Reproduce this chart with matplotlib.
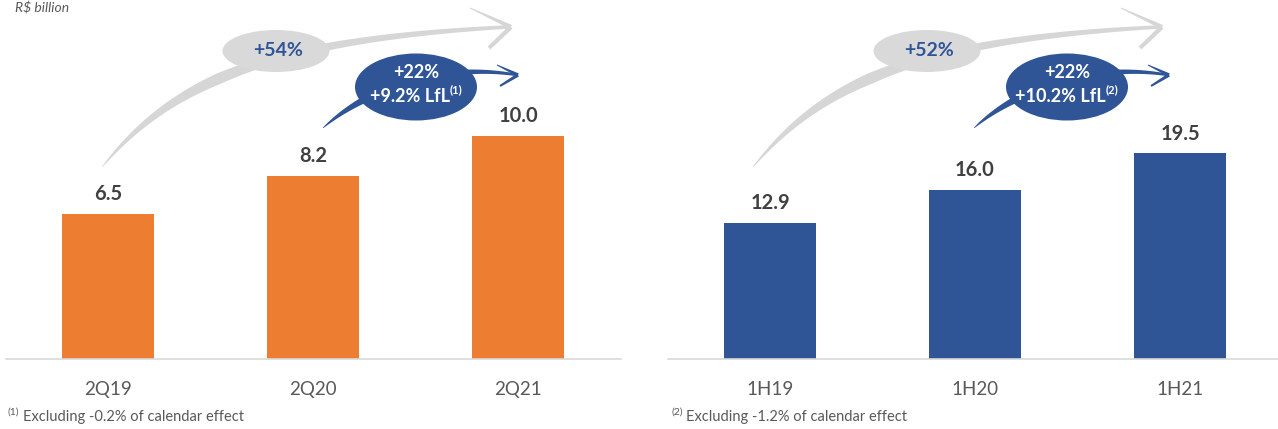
import matplotlib
matplotlib.use("Agg")
import matplotlib.pyplot as plt
import numpy as np
from matplotlib.patches import Ellipse, Polygon
from matplotlib.transforms import Affine2D

plt.rcParams["font.family"] = ["Lato", "DejaVu Sans"]

# data
quarters = ["2Q19", "2Q20", "2Q21"]
quarter_sales = [6.5, 8.2, 10.0]
halves = ["1H19", "1H20", "1H21"]
half_sales = [12.9, 16.0, 19.5]

growth_total = ["+54%", "+52%"]
growth_yoy = ["+22%", "+22%"]
growth_lfl = ["+9.2% LfL", "+10.2% LfL"]
note_marks = ["(1)", "(2)"]
footnotes = ["Excluding -0.2% of calendar effect", "Excluding -1.2% of calendar effect"]

ORANGE = "#ED7D31"
BLUE = "#2F5597"
GREY_TXT = "#595959"
DARK_TXT = "#404040"
LIGHT = "#D9D9D9"

W, H = 1278, 429
fig = plt.figure(figsize=(W / 100, H / 100), dpi=100)
# pixel coords, origin top-left
PIX = Affine2D().scale(1 / W, -1 / H).translate(0, 1) + fig.transFigure


def px_axes(x0, x1, y0, y1):
    return fig.add_axes([x0 / W, 1 - y1 / H, (x1 - x0) / W, (y1 - y0) / H])


def bar_panel(ax, cats, vals, color, ytop):
    x = np.arange(len(cats))
    ax.bar(x, vals, width=0.45, color=color, zorder=2)
    for xi, v in zip(x, vals):
        ax.annotate(f"{v:.1f}", (xi, v), xytext=(0, 7), textcoords="offset points",
                    ha="center", va="bottom", fontsize=14.5, fontweight="bold", color=DARK_TXT)
    ax.set_xlim(-0.5, 2.5)
    ax.set_ylim(0, ytop)
    ax.set_xticks(x)
    ax.set_xticklabels(cats, fontsize=13.5, color=GREY_TXT)
    ax.tick_params(axis="x", length=0, pad=16)
    ax.set_yticks([])
    for s in ["top", "left", "right"]:
        ax.spines[s].set_visible(False)
    ax.spines["bottom"].set_color(LIGHT)
    ax.spines["bottom"].set_linewidth(1.2)
    ax.patch.set_alpha(0)


ax1 = px_axes(5.5, 620.5, 0, 359)
bar_panel(ax1, quarters, quarter_sales, ORANGE, 359 / 22.3)
ax2 = px_axes(667.5, 1282.5, 0, 359)
bar_panel(ax2, halves, half_sales, BLUE, 359 / 10.55)


def bezier(p, n=200):
    p = np.asarray(p, float)
    t = np.linspace(0, 1, n)[:, None]
    pts = ((1 - t) ** 3) * p[0] + 3 * ((1 - t) ** 2) * t * p[1] + 3 * (1 - t) * t ** 2 * p[2] + t ** 3 * p[3]
    return pts, t[:, 0]


def brush(pts, widths, color, z):
    d = np.gradient(pts, axis=0)
    d /= np.linalg.norm(d, axis=1)[:, None]
    nrm = np.column_stack([-d[:, 1], d[:, 0]])
    left = pts + nrm * widths[:, None] / 2
    right = pts - nrm * widths[:, None] / 2
    poly = np.vstack([left, right[::-1]])
    fig.patches.append(Polygon(poly, closed=True, transform=PIX, color=color, lw=0, zorder=z))


def stroke(p0, p1, w0, w1, color, z):
    t = np.linspace(0, 1, 30)[:, None]
    pts = (1 - t) * np.asarray(p0, float) + t * np.asarray(p1, float)
    brush(pts, np.linspace(w0, w1, 30), color, z)


def profile(t, wmax, tp, wend, w0=0.5):
    return np.where(t < tp, w0 + (wmax - w0) * (t / tp) ** 0.8,
                    wmax + (wend - wmax) * (t - tp) / (1 - tp))


def measure(t):
    fig.canvas.draw()
    return t.get_window_extent(fig.canvas.get_renderer()).width


def text_sup(x, y, main, sup, size, color, weight):
    t1 = fig.text(0, 0, main, transform=PIX, fontsize=size, color=color, fontweight=weight,
                  ha="left", va="center", zorder=10)
    t2 = fig.text(0, 0, sup, transform=PIX, fontsize=size * 0.62, color=color, fontweight=weight,
                  ha="left", va="center", zorder=10)
    w1, w2 = measure(t1), measure(t2)
    x0 = x - (w1 + w2) / 2
    t1.set_position((x0, y))
    t2.set_position((x0 + w1, y - size * 0.45))


def growth_callout(dx, total, yoy, lfl, mark):
    # grey long-term arrow
    pts, t = bezier([(102 + dx, 167), (170 + dx, 85), (260 + dx, 40), (508 + dx, 27)])
    brush(pts, profile(t, 11, 0.45, 3.5), "#D6D6D6", 1)
    stroke((470 + dx, 8), (511 + dx, 27), 1, 4.5, "#D6D6D6", 1)
    stroke((511 + dx, 27), (489 + dx, 48), 4.5, 4, "#D6D6D6", 1)
    fig.patches.append(Ellipse((276 + dx, 51), 107, 42, transform=PIX, color=LIGHT, lw=0, zorder=2))
    fig.text(278 + dx, 51, total, transform=PIX, fontsize=14, fontweight="bold", color=BLUE,
             ha="center", va="center", zorder=10)
    # blue yoy arrow
    pts, t = bezier([(323 + dx, 128), (365 + dx, 90), (440 + dx, 62), (517 + dx, 75)])
    brush(pts, profile(t, 9, 0.4, 2.5), BLUE, 3)
    stroke((497 + dx, 65), (518 + dx, 75), 1, 3.5, BLUE, 3)
    stroke((518 + dx, 75), (500 + dx, 86), 3.5, 2, BLUE, 3)
    fig.patches.append(Ellipse((416 + dx, 87), 122, 67, transform=PIX, color=BLUE, lw=0, zorder=4))
    fig.text(416 + dx, 72, yoy, transform=PIX, fontsize=13, fontweight="bold", color="white",
             ha="center", va="center", zorder=10)
    text_sup(416 + dx, 96, lfl, mark, 13, "white", "bold")


for i, dx in enumerate([0, 651]):
    growth_callout(dx, growth_total[i], growth_yoy[i], growth_lfl[i], note_marks[i])

# footnotes
for i, x in enumerate([8, 671]):
    fig.text(x, 412, note_marks[i], transform=PIX, fontsize=7.5, color=GREY_TXT, ha="left", va="center")
    fig.text(x + 15, 417, footnotes[i], transform=PIX, fontsize=10.5, color=GREY_TXT, ha="left", va="center")

fig.text(15, 1, "R$ billion", transform=PIX, fontsize=10, style="italic", color=GREY_TXT,
         ha="left", va="top")

fig.savefig("out.png", dpi=100)
